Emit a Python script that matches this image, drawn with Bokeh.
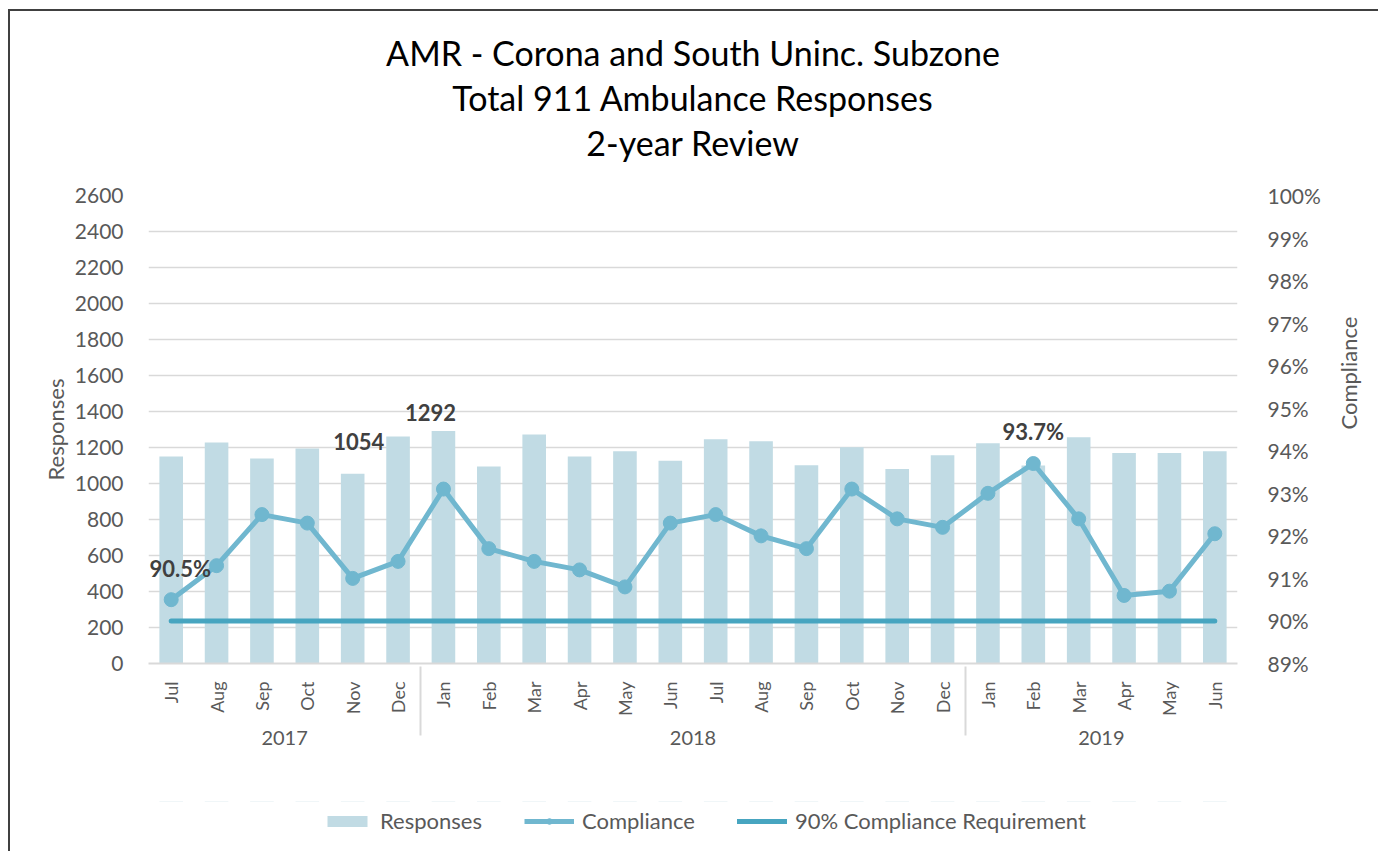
import math
from bokeh.plotting import figure
from bokeh.layouts import column
from bokeh.models import (ColumnDataSource, FactorRange, Range1d, LinearAxis, SingleIntervalTicker,
                          PrintfTickFormatter, Legend, LegendItem, LabelSet, Title)
from bokeh.core.properties import value
from bokeh.embed import file_html
from bokeh.resources import INLINE

# ---------------- data ----------------
years = ["2017"] * 6 + ["2018"] * 12 + ["2019"] * 6
months = ["Jul", "Aug", "Sep", "Oct", "Nov", "Dec",
          "Jan", "Feb", "Mar", "Apr", "May", "Jun", "Jul", "Aug", "Sep", "Oct", "Nov", "Dec",
          "Jan", "Feb", "Mar", "Apr", "May", "Jun"]
responses = [1150, 1228, 1139, 1194, 1054, 1261,
             1292, 1094, 1272, 1150, 1179, 1126, 1246, 1235, 1102, 1202, 1080, 1157,
             1224, 1100, 1257, 1170, 1170, 1179]
compliance = [90.5, 91.3, 92.5, 92.3, 91.0, 91.4,
              93.1, 91.7, 91.4, 91.2, 90.8, 92.3, 92.5, 92.0, 91.7, 93.1, 92.4, 92.2,
              93.0, 93.7, 92.4, 90.6, 90.7, 92.05]
requirement = [90, 90, 90, 90, 90, 90,
               90, 90, 90, 90, 90, 90, 90, 90, 90, 90, 90, 90,
               90, 90, 90, 90, 90, 90]
title_lines = ["AMR - Corona and South Uninc. Subzone", "Total 911 Ambulance Responses", "2-year Review"]
pct_label_idx = [0, 19]
bar_label_idx = [4, 6]

# styling (pixel offsets for the data labels)
pct_label_dx = [9, 0]
pct_label_dy = [31, 32]
bar_label_dx = [6, -13]
bar_label_dy = [32, 18]

FONT = "Lato"
GRAY = "#595959"
BAR = "#c1dbe4"
LINE = "#70b7cf"
REQ = "#47a5c0"

factors = list(zip(years, months))
src = ColumnDataSource(dict(x=factors, responses=responses, compliance=compliance, req=requirement))

x_range = FactorRange(*factors, factor_padding=0, group_padding=0, subgroup_padding=0, range_padding=0)
p = figure(width=1368, height=790, output_backend="svg", toolbar_location=None,
           x_range=x_range, y_range=Range1d(0, 2600), title=None,
           min_border_left=138, min_border_right=121, min_border_top=184, min_border_bottom=138)
p.extra_y_ranges = {"pct": Range1d(89, 100)}
p.outline_line_color = None
p.background_fill_color = "white"
p.border_fill_color = "white"

xa = p.below[0]   # categorical month / year axis

# blank spacer between the plot area and the title block
p.add_layout(Title(text=" ", text_font_size="2px", standoff=28), "above")
# titles (added bottom line first so they stack upward)
for line in reversed(title_lines):
    p.add_layout(Title(text=line, align="center", text_font_size="34px", text_font_style="normal",
                       text_color="#000000", text_font=FONT, standoff=2), "above")

bars = p.vbar(x="x", top="responses", width=0.52, source=src, fill_color=BAR, line_color=None)
req = p.line(x="x", y="req", source=src, y_range_name="pct", line_color=REQ, line_width=5, line_cap="round")
cl = p.line(x="x", y="compliance", source=src, y_range_name="pct", line_color=LINE, line_width=5)
cp = p.scatter(x="x", y="compliance", source=src, y_range_name="pct", size=14, fill_color=LINE, line_color=LINE)

# grid & axes
p.xgrid.grid_line_color = None
p.ygrid.grid_line_color = "#d9d9d9"
p.ygrid.grid_line_width = 1.5

ax_l = p.left[0]
ax_l.ticker = SingleIntervalTicker(interval=200, num_minor_ticks=0)
ax_l.axis_label = "Responses"

ax_r = LinearAxis(y_range_name="pct", ticker=SingleIntervalTicker(interval=1, num_minor_ticks=0),
                  formatter=PrintfTickFormatter(format="%d%%"), axis_label="Compliance")
p.add_layout(ax_r, "right")

for ax in (ax_l, ax_r):
    ax.axis_line_color = None
    ax.major_tick_line_color = None
    ax.minor_tick_line_color = None
    ax.major_label_text_font = FONT
    ax.major_label_text_font_size = "21px"
    ax.major_label_text_color = GRAY
    ax.axis_label_text_font = FONT
    ax.axis_label_text_font_size = "22px"
    ax.axis_label_text_font_style = "normal"
    ax.axis_label_text_color = GRAY
ax_l.major_label_standoff = 19
ax_l.axis_label_standoff = 3
ax_r.major_label_standoff = 24
ax_r.axis_label_standoff = 25
ax_r.axis_label_orientation = math.pi / 2
ax_r.axis_label_text_align = "center"

xa.major_label_orientation = math.pi / 2
xa.group_label_orientation = "horizontal"
xa.major_label_text_font = FONT
xa.major_label_text_font_size = "18px"
xa.major_label_text_color = GRAY
xa.group_text_font = FONT
xa.group_text_font_size = "20px"
xa.group_text_color = GRAY
xa.group_text_font_style = "normal"
xa.separator_line_color = "#d9d9d9"
xa.separator_line_width = 2
xa.axis_line_color = "#d9d9d9"
xa.axis_line_width = 2
xa.major_tick_line_color = None
xa.minor_tick_line_color = None
xa.major_label_standoff = 12

# data labels
pct_src = ColumnDataSource(dict(x=[factors[i] for i in pct_label_idx],
                                y=[compliance[i] for i in pct_label_idx],
                                t=["%.1f%%" % compliance[i] for i in pct_label_idx],
                                dx=pct_label_dx, dy=pct_label_dy))
bar_src = ColumnDataSource(dict(x=[factors[i] for i in bar_label_idx],
                                y=[responses[i] for i in bar_label_idx],
                                t=["%d" % responses[i] for i in bar_label_idx],
                                dx=bar_label_dx, dy=bar_label_dy))
p.add_layout(LabelSet(x="x", y="y", text="t", source=pct_src, y_range_name="pct", x_offset="dx", y_offset="dy",
                      text_align="center", text_baseline="middle", text_font=value(FONT),
                      text_font_size="22px", text_font_style="bold", text_color="#404040"))
p.add_layout(LabelSet(x="x", y="y", text="t", source=bar_src, x_offset="dx", y_offset="dy",
                      text_align="center", text_baseline="middle", text_font=value(FONT),
                      text_font_size="22px", text_font_style="bold", text_color="#404040"))

# legend strip below the chart (its renderers use the same data, kept out of view)
lf = figure(width=1368, height=50, output_backend="svg", toolbar_location=None,
            x_range=x_range, y_range=Range1d(-2, -1), x_axis_type=None, y_axis_type=None,
            min_border=0, title=None)
lf.outline_line_color = None
lf.xgrid.grid_line_color = None
lf.ygrid.grid_line_color = None
lb = lf.vbar(x="x", top="responses", width=0.52, source=src, fill_color=BAR, line_color=None)
ll = lf.line(x="x", y="compliance", source=src, line_color=LINE, line_width=5)
lp = lf.scatter(x="x", y="compliance", source=src, size=12, fill_color=LINE, line_color=LINE)
lr = lf.line(x="x", y="req", source=src, line_color=REQ, line_width=5, line_cap="round")
legend = Legend(items=[LegendItem(label="Responses", renderers=[lb]),
                       LegendItem(label="Compliance", renderers=[ll, lp]),
                       LegendItem(label="90% Compliance Requirement", renderers=[lr])],
                orientation="horizontal", location=(174, 17), border_line_color=None,
                background_fill_alpha=0, label_text_font=FONT, label_text_font_size="22px",
                label_text_color=GRAY, glyph_width=50, glyph_height=14, spacing=42,
                label_standoff=8, margin=0, padding=0)
lf.add_layout(legend)

layout = column(p, lf, spacing=0,
                styles={"border-left": "2px solid #404040", "border-top": "2px solid #404040",
                        "margin-left": "8px", "margin-top": "9px"})

open("out.html", "w").write(file_html(layout, INLINE))
